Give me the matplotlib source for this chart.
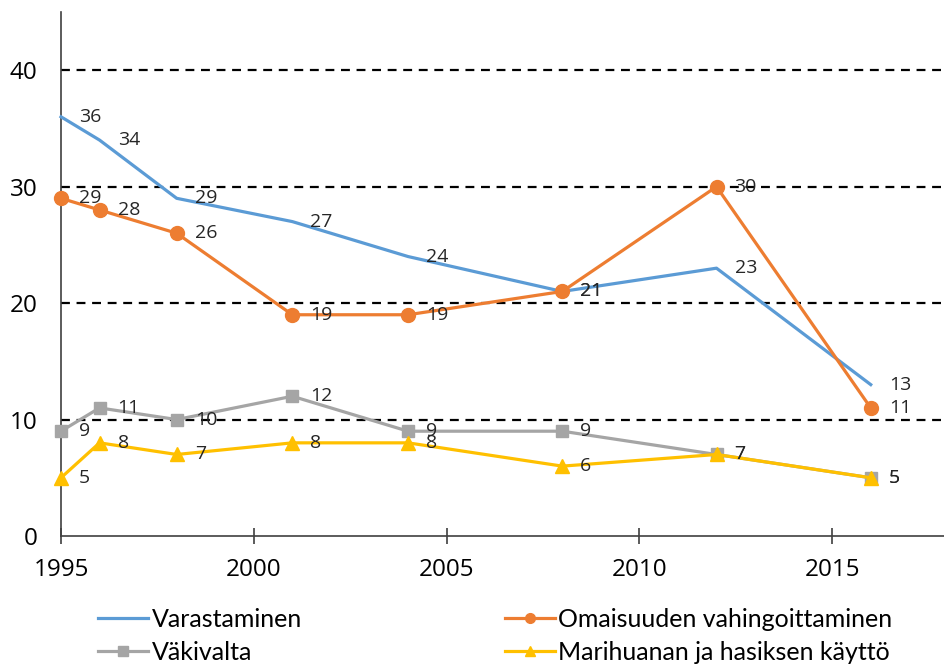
import matplotlib
matplotlib.use('Agg')
import matplotlib.pyplot as plt

years = [1995, 1996, 1998, 2001, 2004, 2008, 2012, 2016]
varastaminen = [36, 34, 29, 27, 24, 21, 23, 13]
omaisuus = [29, 28, 26, 19, 19, 21, 30, 11]
vakivalta = [9, 11, 10, 12, 9, 9, 7, 5]
marihuana = [5, 8, 7, 8, 8, 6, 7, 5]

series_names = ['Varastaminen', 'Omaisuuden vahingoittaminen',
                'Väkivalta', 'Marihuanan ja hasiksen käyttö']
colors = ['#5B9BD5', '#ED7D31', '#A5A5A5', '#FFC000']
markers = [None, 'o', 's', '^']
msizes = [0, 10, 8, 10]

plt.rcParams['font.family'] = ['Open Sans', 'DejaVu Sans']

fig = plt.figure(figsize=(9.44, 6.64), dpi=100)
ax = fig.add_axes([61/944, 128/664, 1 - 61/944, 524/664])

# dashed grid lines like the excel original
for y in [10, 20, 30, 40]:
    ax.axhline(y, color='black', linestyle=(0, (4, 3)), linewidth=1.6, zorder=1)

all_values = [varastaminen, omaisuus, vakivalta, marihuana]
lines = []
for vals, name, c, m, ms in zip(all_values, series_names, colors, markers, msizes):
    ln, = ax.plot(years, vals, color=c, linewidth=2.3, marker=m, markersize=ms,
                  label=name, zorder=3, clip_on=False)
    lines.append(ln)
    for x, v in zip(years, vals):
        ax.annotate(str(v), (x, v), xytext=(13, 0), textcoords='offset points',
                    ha='left', va='center', fontsize=14, color='#262626', zorder=4)

ax.set_xlim(1995, 2017.9)
ax.set_ylim(0, 45)
ax.set_xticks([1995, 2000, 2005, 2010, 2015])
ax.set_yticks([0, 10, 20, 30, 40])

for s in ['top', 'right']:
    ax.spines[s].set_visible(False)
for s in ['left', 'bottom']:
    ax.spines[s].set_color('#404040')
    ax.spines[s].set_linewidth(1.2)

ax.tick_params(axis='x', direction='inout', length=12, width=1.2, color='#404040',
               labelsize=17.5, pad=10)
ax.tick_params(axis='y', length=0, labelsize=17.5, pad=17)

# legend fills column-wise, so order the handles to read row by row
order = [0, 2, 1, 3]
leg = fig.legend([lines[i] for i in order], [series_names[i] for i in order],
                 loc='lower left', bbox_to_anchor=(98/944, 0), ncol=2,
                 frameon=False, handlelength=2.0, handletextpad=0.15,
                 columnspacing=8.1, labelspacing=0.4, borderpad=0, borderaxespad=0,
                 prop={'family': ['Lato', 'DejaVu Sans'], 'size': 18})
for h in leg.legend_handles:
    h.set_markersize(7)

fig.savefig('out.png', dpi=100)
